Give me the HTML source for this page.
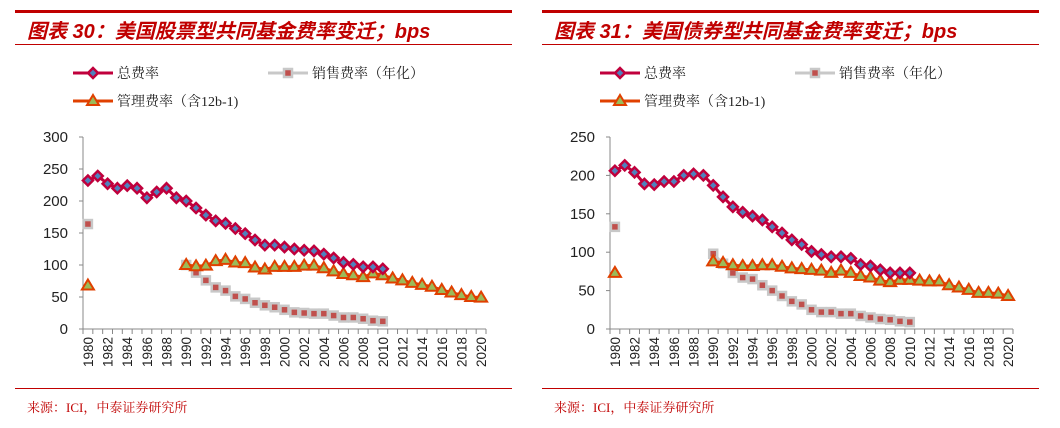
<!DOCTYPE html>
<html><head><meta charset="utf-8"><style>
body{margin:0;background:#fff;width:1060px;height:428px;overflow:hidden;font-family:"Liberation Sans","Noto Sans CJK SC",sans-serif}
svg{position:absolute;left:0;top:0}
</style></head><body>
<svg id="s" width="1060" height="428"></svg>
<script>
const years=[];for(let y=1980;y<=2020;y++)years.push(y);
// Chart 30 (equity funds)
const eqTotal=[232,239,227,220,224,220,205,214,220,205,200,189,178,169,165,157,149,139,131,131,128,125,123,122,117,111,104,101,97,97,94];
const eqSales1980=164;
const eqSales=[100,88,76,65,60,51,47,41,37,34,30,26,25,24,24,21,18,18,16,13,12];
const eqMgmt1980=68;
const eqMgmt=[100,98,99,106,108,104,103,96,93,97,97,97,99,99,95,90,86,84,81,87,84,79,76,72,69,66,61,57,53,50,49];
const eqTicks=[0,50,100,150,200,250,300];
// Chart 31 (bond funds)
const bdTotal=[206,213,204,189,188,192,192,200,202,200,187,172,159,152,147,142,133,125,116,110,101,97,94,94,92,84,82,77,73,73,73];
const bdSales1980=133;
const bdSales=[98,85,73,67,65,57,50,43,36,32,25,22,22,20,20,17,15,13,12,10,9];
const bdMgmt1980=73;
const bdMgmt=[88,86,83,82,82,83,83,81,79,78,77,76,73,76,73,69,67,63,61,64,64,63,62,62,57,54,51,47,47,46,43];
const bdTicks=[0,50,100,150,200,250];

const NS='http://www.w3.org/2000/svg';const svg=document.getElementById('s');
function mk(t,a,p){const e=document.createElementNS(NS,t);for(const k in a)e.setAttribute(k,a[k]);(p||svg).appendChild(e);return e;}
function txt(x,y,s,a,p){const e=mk('text',Object.assign({x:x,y:y},a),p);e.textContent=s;return e;}
function diamond(g,x,y){return mk('path',{d:`M${x} ${y-5}L${x+5} ${y}L${x} ${y+5}L${x-5} ${y}Z`,fill:'#4f81bd',stroke:'#c0003c','stroke-width':2.5},g);}
function square(g,x,y){return mk('rect',{x:x-4,y:y-4,width:8,height:8,fill:'#c0504d',stroke:'#c8c8c8','stroke-width':2.5},g);}
function tri(g,x,y){return mk('path',{d:`M${x} ${y-6}L${x+6} ${y+4}L${x-6} ${y+4}Z`,fill:'#9bbb59',stroke:'#e04000','stroke-width':2},g);}

function panel(ox,title,total,s80,sales,m80,mgmt,ticks,ymax){
  const g=mk('g',{}); 
  mk('rect',{x:ox+15,y:10,width:497,height:3,fill:'#c00000'},g);
  const t=txt(ox+27,38,title,{fill:'#c00000','font-size':20,'font-weight':'bold','font-style':'italic'},g);
  
  mk('rect',{x:ox+15,y:44,width:497,height:1,fill:'#c00000'},g);
  mk('rect',{x:ox+15,y:388,width:497,height:1,fill:'#c00000'},g);
  const src=txt(ox+27,412,'来源：ICI，中泰证券研究所',{fill:'#c00000','font-size':13,'font-family':'"Liberation Serif","Noto Serif CJK SC",serif'},g);
  
  // legend
  const lg=mk('g',{},g);
  const items=[[73,73,'#c0003c',diamond,'总费率'],[268,73,'#c8c8c8',square,'销售费率（年化）'],[73,101,'#e04000',tri,'管理费率（含12b-1)']];
  items.forEach(([lx,ly,c,f,s])=>{const x=ox+lx;mk('line',{x1:x,y1:ly,x2:x+40,y2:ly,stroke:c,'stroke-width':3},lg);f(lg,x+20,ly);
    txt(x+44,ly+5,s,{'font-size':14,fill:'#222','font-family':'"Liberation Serif","Noto Serif CJK SC",serif'},lg);});
  // axes
  const x0=ox+83,x1=ox+486,y0=329,ytop=137;const step=(x1-x0)/years.length;
  const X=i=>x0+step*(i+0.5);const Y=v=>y0-(v/ymax)*(y0-ytop);
  const ax=mk('g',{},g);
  mk('line',{x1:x0,y1:ytop,x2:x0,y2:y0,stroke:'#888'},ax);
  mk('line',{x1:x0,y1:y0,x2:x1,y2:y0,stroke:'#888'},ax);
  ticks.forEach(v=>{mk('line',{x1:x0-4,y1:Y(v),x2:x0,y2:Y(v),stroke:'#888'},ax);
    txt(x0-15,Y(v)+5,String(v),{'font-size':15,'text-anchor':'end',fill:'#222'},ax);});
  for(let i=0;i<=years.length;i++)mk('line',{x1:x0+step*i,y1:y0,x2:x0+step*i,y2:y0+5,stroke:'#888'},ax);
  years.forEach((yr,i)=>{if(yr%2)return;const x=X(i)+5;txt(x,y0+8,String(yr),{'font-size':13.5,'text-anchor':'end',fill:'#222',transform:`rotate(-90 ${x} ${y0+8})`},ax);});
  // series
  function series(name,vals,start,c,f,single){
    const sg=mk('g',{},g);
    const pts=vals.map((v,k)=>[X(start+k),Y(v)]);
    mk('polyline',{points:pts.map(p=>p.join(',')).join(' '),fill:'none',stroke:c,'stroke-width':3},sg);
    pts.forEach(p=>f(sg,p[0],p[1]));
    f(sg,X(0),Y(single));
  }
  series('series-sales',sales,10,'#c8c8c8',square,s80);
  series('series-mgmt',mgmt,10,'#e04000',tri,m80);
  const tg=mk('g',{},g);
  mk('polyline',{points:total.map((v,k)=>X(k)+','+Y(v)).join(' '),fill:'none',stroke:'#c0003c','stroke-width':3},tg);
  total.forEach((v,k)=>diamond(tg,X(k),Y(v)));
}
panel(0,'图表 30：美国股票型共同基金费率变迁；bps',eqTotal,eqSales1980,eqSales,eqMgmt1980,eqMgmt,eqTicks,300);
panel(527,'图表 31：美国债券型共同基金费率变迁；bps',bdTotal,bdSales1980,bdSales,bdMgmt1980,bdMgmt,bdTicks,250);
</script></body></html>
